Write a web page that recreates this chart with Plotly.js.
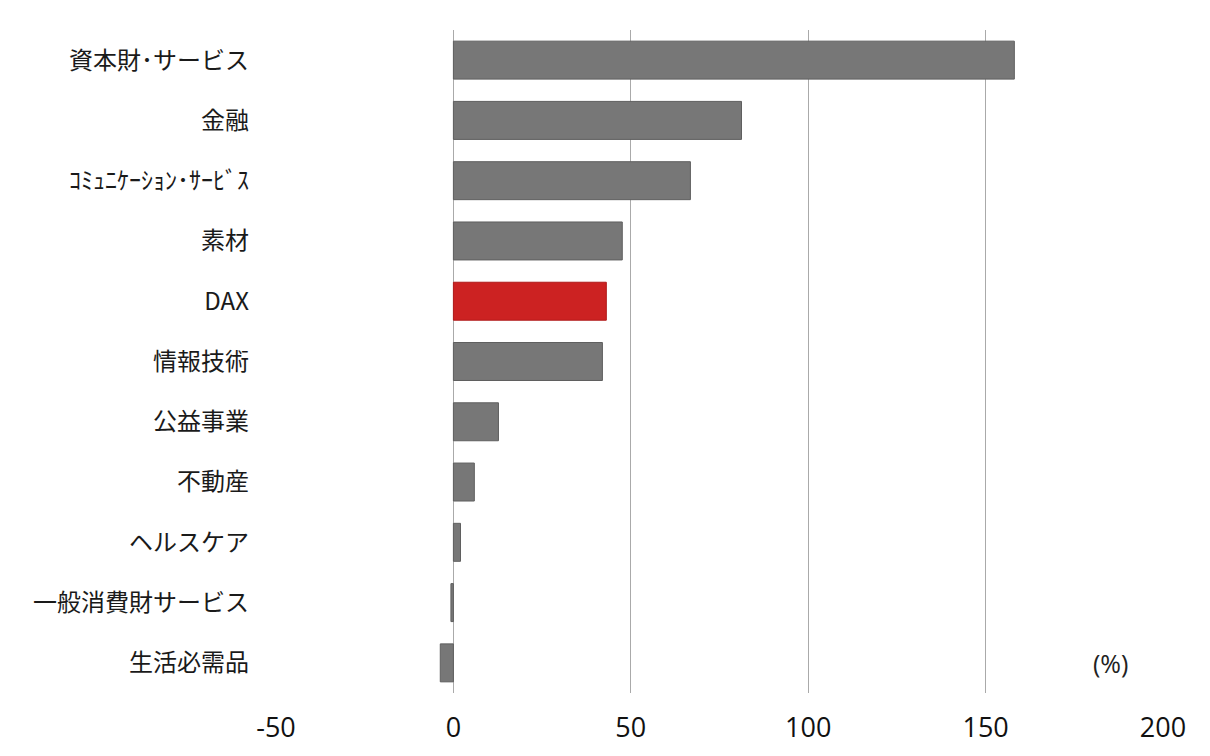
<!DOCTYPE html>
<html>
<head>
<meta charset="utf-8">
<script src="https://cdn.plot.ly/plotly-3.0.1.min.js"></script>
<style>html,body{margin:0;padding:0;background:#fff;}#chart{width:1210px;height:756px;}</style>
</head>
<body>
<div id="chart"></div>
<script>
const categories = ["資本財･サービス","金融","ｺﾐｭﾆｹｰｼｮﾝ･ｻｰﾋﾞｽ","素材","DAX","情報技術","公益事業","不動産","ヘルスケア","一般消費財サービス","生活必需品"];
const values = [158.1, 81.2, 66.8, 47.6, 43.1, 42.0, 12.7, 5.9, 2.0, -0.7, -3.7];
const highlight = "DAX";
const xTicks = [-50, 0, 50, 100, 150, 200];

const colors = categories.map(c => c === highlight ? "#cc2222" : "#777777");
const lineColors = categories.map(c => c === highlight ? "#b01a1a" : "#5f5f5f");

Plotly.newPlot("chart", [{
  type: "bar",
  orientation: "h",
  y: categories,
  x: values,
  marker: {color: colors, line: {color: lineColors, width: 1}},
  hoverinfo: "skip"
}], {
  width: 1210, height: 756,
  margin: {l: 276, r: 47, t: 30, b: 63},
  paper_bgcolor: "#fff", plot_bgcolor: "#fff",
  bargap: 0.37,
  showlegend: false,
  font: {family: "'Noto Sans CJK JP', 'Noto Sans', sans-serif", color: "#222"},
  xaxis: {
    range: [-50, 200], tickvals: xTicks, ticktext: xTicks.map(String),
    showgrid: true, gridcolor: "#aaaaaa", gridwidth: 1.2,
    zeroline: true, zerolinecolor: "#aaaaaa", zerolinewidth: 1.2,
    showline: false, ticks: "", ticklabelstandoff: 16,
    tickfont: {size: 27, family: "'Open Sans', 'Noto Sans', sans-serif", color: "#111"}
  },
  yaxis: {
    autorange: "reversed", showgrid: false, zeroline: false, showline: false,
    ticks: "", ticklabelstandoff: 26,
    tickfont: {size: 24, color: "#1a1a1a"}
  },
  annotations: [{
    x: 0.94, y: 0.045, xref: "paper", yref: "paper", text: "(%)", showarrow: false,
    xanchor: "center", yanchor: "middle",
    font: {size: 25, color: "#222", family: "'Open Sans', sans-serif"}
  }]
}, {displayModeBar: false, staticPlot: true}).then(gd => {
  const fl = gd._fullLayout;
  const xp = (1110 - fl.margin.l) / fl._size.w;
  const yp = 1 - (663 - fl.margin.t) / fl._size.h;
  Plotly.relayout(gd, {"annotations[0].x": xp, "annotations[0].y": yp});
});
</script>
</body>
</html>
